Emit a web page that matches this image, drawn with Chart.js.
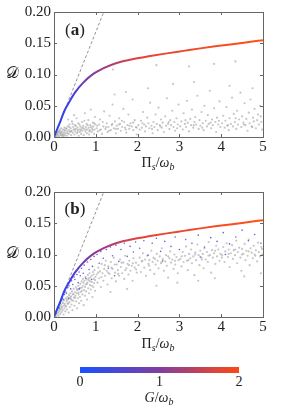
<!DOCTYPE html>
<html>
<head>
<meta charset="utf-8">
<script src="https://cdn.jsdelivr.net/npm/chart.js@4.4.1/dist/chart.umd.min.js"></script>
<style>
  body { margin: 0; background: #fff; }
  #wrap { position: relative; width: 301px; height: 409px; font-family: "Liberation Serif", "DejaVu Serif", serif; color: #222; }
  canvas { position: absolute; left: 0; }
  .lbl { position: absolute; font-size: 14px; white-space: nowrap; transform: translate(-50%, -50%); line-height: 1; }
  .lbl i { font-style: italic; }
  .lbl sub { font-size: 10px; vertical-align: -3px; font-style: italic; }
  .panel { font-size: 17px; }
  .dsym { font-size: 16px; }
  #cbar { position: absolute; left: 80px; top: 367px; width: 159px; height: 6px;
          background: linear-gradient(to right, rgb(25,80,255), rgb(128,62,160), rgb(255,72,18)); }
</style>
</head>
<body>
<div id="wrap">
  <canvas id="chartA" width="301" height="157" style="top:0px"></canvas>
  <canvas id="chartB" width="301" height="157" style="top:180px"></canvas>

  <div class="lbl dsym" style="left:12px; top:73px">𝒟</div>
  <div class="lbl dsym" style="left:12px; top:253px">𝒟</div>
  <div class="lbl panel" style="left:75px; top:29px">(<b>a</b>)</div>
  <div class="lbl panel" style="left:75px; top:208px">(<b>b</b>)</div>
  <div class="lbl" style="left:158px; top:164px">Π<sub>s</sub>/<i>ω</i><sub>b</sub></div>
  <div class="lbl" style="left:158px; top:345px">Π<sub>s</sub>/<i>ω</i><sub>b</sub></div>

  <div id="cbar"></div>
  <div class="lbl" style="left:80px; top:382px">0</div>
  <div class="lbl" style="left:159.5px; top:382px">1</div>
  <div class="lbl" style="left:239px; top:382px">2</div>
  <div class="lbl" style="left:159px; top:399px"><i>G</i>/<i>ω</i><sub>b</sub></div>
</div>

<script>
// axis ticks
const xTicks = [0, 1, 2, 3, 4, 5];
const yTicks = [0, 0.05, 0.10, 0.15, 0.20];

// saturating curve (same in both panels)
const curveX = [0, 0.05, 0.1, 0.15, 0.25, 0.375, 0.5, 0.7, 0.9, 1.2, 1.5, 1.9, 2.3, 2.7, 3.1, 3.5, 3.9, 4.5, 5];
const curveY = [0, 0.0084, 0.0166, 0.0246, 0.042, 0.057, 0.071, 0.087, 0.099, 0.1105, 0.1185, 0.1248, 0.1295, 0.1338, 0.1378, 0.1418, 0.1455, 0.1505, 0.155];

// dashed initial slope line
const dashX = [0, 1.19];
const dashY = [0, 0.20];

// curve colour along x (G/wb mapping)
const gradX = [0, 0.4, 1.0, 2.0, 5.0];
const gradC = ['rgb(35,70,245)', 'rgb(70,60,225)', 'rgb(140,60,145)', 'rgb(228,66,58)', 'rgb(255,82,22)'];

// panel (a) gray cloud
const grayA = [
  [0.02,0.001],[0.04,0.003],[0.05,0.001],[0.07,0.005],[0.08,0.002],[0.1,0.004],[0.11,0.008],[0.12,0.001],[0.14,0.006],[0.15,0.003],[0.16,0.01],[0.18,0.005],[0.19,0.002],[0.2,0.008],[0.21,0.012],[0.22,0.004],[0.24,0.007],[0.25,0.015],[0.03,0.006],[0.09,0.009],[0.13,0.012],[0.17,0.014],[0.23,0.001],[0.06,0.008],
  [0.26,0.003],[0.27,0.01],[0.28,0.006],[0.3,0.013],[0.31,0.002],[0.32,0.009],[0.33,0.017],[0.35,0.005],[0.36,0.011],[0.37,0.02],[0.38,0.008],[0.4,0.014],[0.41,0.003],[0.42,0.01],[0.43,0.025],[0.45,0.007],[0.46,0.016],[0.47,0.012],[0.49,0.004],[0.5,0.019],[0.51,0.009],[0.52,0.013],[0.54,0.03],[0.55,0.006],[0.56,0.015],[0.57,0.011],[0.58,0.022],[0.59,0.002],[0.34,0.028],[0.48,0.035],
  [0.61,0.012],[0.62,0.008],[0.63,0.017],[0.65,0.005],[0.66,0.014],[0.67,0.024],[0.68,0.01],[0.7,0.018],[0.71,0.003],[0.72,0.013],[0.74,0.038],[0.75,0.009],[0.76,0.016],[0.78,0.021],[0.79,0.006],[0.8,0.012],[0.82,0.027],[0.83,0.015],[0.84,0.004],[0.86,0.011],[0.87,0.019],[0.88,0.044],[0.9,0.008],[0.91,0.014],[0.93,0.023],[0.94,0.017],[0.96,0.005],[0.97,0.012],[0.98,0.032],[0.99,0.02],
  [1.02,0.014],[1.05,0.009],[1.08,0.02],[1.1,0.028],[1.12,0.012],[1.15,0.005],[1.18,0.017],[1.2,0.041],[1.23,0.013],[1.26,0.022],[1.28,0.008],[1.3,0.016],[1.33,0.034],[1.36,0.011],[1.38,0.019],[1.4,0.052],[1.43,0.014],[1.46,0.025],[1.48,0.006],[1.5,0.018],[1.53,0.013],[1.56,0.03],[1.58,0.021],[1.6,0.01],[1.63,0.016],[1.66,0.045],[1.68,0.024],[1.7,0.015],[1.73,0.007],[1.76,0.019],[1.78,0.036],[1.8,0.013],[1.83,0.022],[1.86,0.017],[1.88,0.06],[1.9,0.011],[1.93,0.027],[1.96,0.016],[1.98,0.004],[1.45,0.068],[1.72,0.072],
  [2.02,0.019],[2.05,0.012],[2.08,0.026],[2.1,0.015],[2.13,0.04],[2.16,0.02],[2.18,0.009],[2.2,0.017],[2.23,0.031],[2.26,0.022],[2.28,0.014],[2.3,0.055],[2.33,0.018],[2.36,0.006],[2.38,0.024],[2.4,0.016],[2.43,0.036],[2.46,0.021],[2.48,0.011],[2.5,0.047],[2.53,0.019],[2.56,0.028],[2.58,0.015],[2.6,0.023],[2.63,0.008],[2.66,0.033],[2.68,0.018],[2.7,0.062],[2.73,0.021],[2.76,0.013],[2.78,0.027],[2.8,0.019],[2.83,0.042],[2.86,0.016],[2.88,0.024],[2.9,0.01],[2.93,0.03],[2.96,0.02],[2.98,0.052],[2.25,0.078],[2.85,0.085],
  [3.02,0.017],[3.05,0.025],[3.08,0.012],[3.1,0.038],[3.13,0.021],[3.16,0.016],[3.18,0.058],[3.2,0.023],[3.23,0.009],[3.26,0.029],[3.28,0.019],[3.3,0.044],[3.33,0.015],[3.36,0.024],[3.38,0.032],[3.4,0.02],[3.43,0.066],[3.46,0.013],[3.48,0.027],[3.5,0.018],[3.53,0.04],[3.56,0.022],[3.58,0.011],[3.6,0.05],[3.63,0.026],[3.66,0.017],[3.68,0.035],[3.7,0.021],[3.73,0.074],[3.76,0.014],[3.78,0.028],[3.8,0.019],[3.83,0.046],[3.86,0.024],[3.88,0.008],[3.9,0.031],[3.93,0.02],[3.96,0.057],[3.98,0.016],[3.35,0.088],
  [4.02,0.022],[4.05,0.034],[4.08,0.015],[4.1,0.026],[4.13,0.048],[4.16,0.019],[4.18,0.011],[4.2,0.03],[4.23,0.021],[4.26,0.063],[4.28,0.017],[4.3,0.037],[4.33,0.024],[4.36,0.013],[4.38,0.042],[4.4,0.02],[4.43,0.028],[4.46,0.071],[4.48,0.016],[4.5,0.033],[4.53,0.023],[4.56,0.054],[4.58,0.019],[4.6,0.029],[4.63,0.01],[4.66,0.039],[4.68,0.022],[4.7,0.06],[4.73,0.017],[4.76,0.031],[4.78,0.025],[4.8,0.045],[4.83,0.014],[4.86,0.027],[4.88,0.036],[4.9,0.02],[4.93,0.05],[4.96,0.024],[4.98,0.012],[4.2,0.082],[4.75,0.078],
  [1.41,0.108],[2.45,0.115],[3.23,0.113],[3.83,0.117],[4.34,0.121],
  [0.035,0.004],[0.085,0.006],[0.125,0.009],[0.165,0.007],[0.205,0.003],[0.245,0.011],[0.285,0.014],[0.325,0.006],[0.365,0.016],[0.405,0.009],[0.445,0.021],[0.485,0.012],[0.525,0.018],[0.565,0.008],[0.605,0.02],[0.645,0.011],[0.685,0.015],[0.725,0.026],[0.765,0.012],[0.805,0.019],[0.845,0.009],[0.885,0.016],[0.925,0.011],[0.965,0.022],
  [1.035,0.018],[1.095,0.011],[1.165,0.024],[1.245,0.016],[1.315,0.01],[1.395,0.021],[1.475,0.013],[1.545,0.02],[1.625,0.026],[1.715,0.012],[1.805,0.018],[1.895,0.023],[1.975,0.015],[2.115,0.022],[2.345,0.013],[2.545,0.017],[2.745,0.024],[2.945,0.014],[3.145,0.027],[3.345,0.019],[3.545,0.015],[3.745,0.023],[3.945,0.026],[4.145,0.018],[4.345,0.03],[4.545,0.02],[4.745,0.016],[4.945,0.033]
];

// panel (b) gray cloud
const grayB = [
  [0.02,0.002],[0.04,0.005],[0.05,0.001],[0.06,0.008],[0.08,0.004],[0.09,0.011],[0.1,0.007],[0.11,0.002],[0.12,0.014],[0.13,0.009],[0.14,0.018],[0.15,0.005],[0.16,0.012],[0.17,0.02],[0.18,0.008],[0.19,0.015],[0.2,0.024],[0.21,0.011],[0.22,0.018],[0.23,0.004],[0.24,0.027],[0.25,0.014],[0.26,0.021],[0.27,0.009],[0.28,0.03],[0.29,0.017],[0.3,0.025],[0.03,0.009],[0.07,0.013],
  [0.31,0.012],[0.32,0.032],[0.33,0.021],[0.34,0.028],[0.35,0.007],[0.36,0.035],[0.37,0.024],[0.38,0.016],[0.39,0.038],[0.4,0.029],[0.41,0.033],[0.42,0.02],[0.43,0.041],[0.44,0.011],[0.45,0.036],[0.46,0.026],[0.47,0.045],[0.48,0.031],[0.49,0.018],[0.5,0.04],[0.51,0.034],[0.52,0.048],[0.53,0.025],[0.54,0.038],[0.55,0.014],[0.56,0.043],[0.57,0.03],[0.58,0.05],[0.59,0.036],[0.6,0.022],
  [0.61,0.045],[0.62,0.032],[0.63,0.053],[0.64,0.04],[0.65,0.026],[0.66,0.057],[0.67,0.047],[0.68,0.036],[0.69,0.061],[0.7,0.05],[0.71,0.019],[0.72,0.043],[0.73,0.058],[0.74,0.034],[0.75,0.064],[0.76,0.052],[0.77,0.041],[0.78,0.06],[0.79,0.028],[0.8,0.055],[0.81,0.067],[0.82,0.046],[0.83,0.059],[0.84,0.038],[0.85,0.07],[0.86,0.051],[0.87,0.063],[0.88,0.044],[0.9,0.066],[0.91,0.056],[0.92,0.032],[0.93,0.072],[0.94,0.048],[0.95,0.061],[0.96,0.054],[0.97,0.075],[0.98,0.042],[0.99,0.064],
  [1.02,0.068],[1.04,0.055],[1.06,0.079],[1.08,0.062],[1.1,0.073],[1.12,0.048],[1.14,0.085],[1.16,0.07],[1.18,0.058],[1.2,0.077],[1.22,0.066],[1.24,0.09],[1.26,0.074],[1.28,0.052],[1.3,0.081],[1.33,0.069],[1.36,0.088],[1.38,0.062],[1.4,0.077],[1.43,0.095],[1.46,0.071],[1.48,0.057],[1.5,0.084],[1.53,0.075],[1.56,0.066],[1.58,0.092],[1.6,0.08],[1.63,0.07],[1.66,0.087],[1.68,0.061],[1.7,0.098],[1.73,0.078],[1.76,0.085],[1.78,0.068],[1.8,0.09],[1.83,0.074],[1.86,0.082],[1.88,0.058],[1.9,0.094],[1.93,0.079],[1.96,0.087],[1.98,0.071],[1.35,0.04],[1.75,0.045],
  [2.02,0.083],[2.05,0.095],[2.08,0.072],[2.1,0.089],[2.13,0.102],[2.16,0.079],[2.18,0.092],[2.2,0.066],[2.23,0.098],[2.26,0.085],[2.28,0.091],[2.3,0.075],[2.33,0.106],[2.36,0.088],[2.38,0.095],[2.4,0.069],[2.43,0.084],[2.46,0.101],[2.48,0.09],[2.5,0.078],[2.53,0.097],[2.56,0.086],[2.58,0.11],[2.6,0.093],[2.63,0.074],[2.66,0.089],[2.68,0.099],[2.7,0.082],[2.73,0.063],[2.76,0.094],[2.78,0.105],[2.8,0.087],[2.83,0.092],[2.86,0.077],[2.88,0.1],[2.9,0.084],[2.93,0.096],[2.96,0.07],[2.98,0.091],[2.45,0.05],[2.95,0.055],
  [3.02,0.093],[3.05,0.081],[3.08,0.104],[3.1,0.088],[3.13,0.098],[3.16,0.113],[3.18,0.09],[3.2,0.075],[3.23,0.101],[3.26,0.094],[3.28,0.108],[3.3,0.086],[3.33,0.097],[3.36,0.067],[3.38,0.103],[3.4,0.091],[3.43,0.116],[3.46,0.099],[3.48,0.083],[3.5,0.106],[3.53,0.095],[3.56,0.101],[3.58,0.078],[3.6,0.11],[3.63,0.092],[3.66,0.104],[3.68,0.088],[3.7,0.12],[3.73,0.099],[3.76,0.071],[3.78,0.107],[3.8,0.095],[3.83,0.102],[3.86,0.085],[3.88,0.114],[3.9,0.097],[3.93,0.108],[3.96,0.09],[3.98,0.101],[3.45,0.058],[3.85,0.062],
  [4.02,0.099],[4.05,0.112],[4.08,0.088],[4.1,0.105],[4.13,0.118],[4.16,0.096],[4.18,0.108],[4.2,0.08],[4.23,0.102],[4.26,0.115],[4.28,0.093],[4.3,0.107],[4.33,0.099],[4.36,0.122],[4.38,0.086],[4.4,0.104],[4.43,0.111],[4.46,0.095],[4.48,0.074],[4.5,0.109],[4.53,0.101],[4.56,0.117],[4.58,0.091],[4.6,0.106],[4.63,0.098],[4.66,0.124],[4.68,0.083],[4.7,0.11],[4.73,0.103],[4.76,0.094],[4.78,0.114],[4.8,0.1],[4.83,0.107],[4.86,0.089],[4.88,0.119],[4.9,0.104],[4.93,0.097],[4.96,0.112],[4.98,0.1],[4.55,0.065],[4.95,0.07],
  [0.135,0.013],[0.175,0.016],[0.215,0.022],[0.265,0.018],[0.305,0.028],[0.345,0.022],[0.385,0.031],[0.425,0.027],[0.465,0.037],[0.505,0.031],[0.545,0.045],[0.585,0.039],[0.625,0.047],[0.665,0.042],[0.705,0.055],[0.745,0.048],[0.785,0.053],[0.825,0.062],[0.865,0.057],[0.905,0.05],[0.945,0.068],[0.985,0.059],
  [1.055,0.071],[1.135,0.064],[1.215,0.083],[1.295,0.071],[1.375,0.079],[1.455,0.084],[1.535,0.069],[1.615,0.087],[1.705,0.075],[1.795,0.083],[1.885,0.086],[1.965,0.076],[2.115,0.09],[2.275,0.082],[2.415,0.093],[2.575,0.088],[2.735,0.097],[2.895,0.09],[3.055,0.097],[3.215,0.091],[3.375,0.1],[3.535,0.092],[3.695,0.098],[3.855,0.106],[4.015,0.095],[4.175,0.101],[4.335,0.108],[4.495,0.1],[4.655,0.105],[4.815,0.098],[4.975,0.109]
];

// panel (b) blue points
const blueB = [
  [0.05,0.006],[0.08,0.012],[0.1,0.016],[0.12,0.015],[0.15,0.022],[0.18,0.027],[0.2,0.03],[0.22,0.028],[0.25,0.036],[0.28,0.04],[0.3,0.038],[0.33,0.047],[0.36,0.05],[0.4,0.045],[0.42,0.058],[0.45,0.052],[0.48,0.064],[0.5,0.06],[0.55,0.068],[0.58,0.055],[0.6,0.072],[0.63,0.066],[0.66,0.078],[0.7,0.07],[0.72,0.083],[0.76,0.062],[0.8,0.088],[0.84,0.076],[0.88,0.092],[0.92,0.081],[0.96,0.097],[0.35,0.03],[0.6,0.045],[0.9,0.06],
  [1.03,0.1],[1.08,0.086],[1.12,0.105],[1.18,0.094],[1.25,0.108],[1.3,0.078],[1.35,0.112],[1.4,0.098],[1.48,0.115],[1.55,0.089],[1.6,0.108],[1.68,0.118],[1.75,0.097],[1.82,0.113],[1.9,0.104],[1.95,0.12],[1.45,0.066],
  [2.05,0.11],[2.15,0.122],[2.25,0.099],[2.35,0.118],[2.45,0.126],[2.55,0.105],[2.65,0.121],[2.8,0.113],[2.9,0.128],[3.0,0.108],[3.15,0.124],[3.3,0.118],[3.45,0.131],[3.6,0.112],[3.75,0.127],[3.9,0.121],[4.05,0.135],[4.2,0.117],[4.35,0.128],[4.5,0.139],[4.65,0.122],[4.8,0.132],[4.95,0.118],[2.6,0.09],[3.5,0.096],[4.1,0.1]
];

const toPts = (xs, ys) => xs.map((x, i) => ({ x: x, y: ys[i] }));
const pairPts = arr => arr.map(p => ({ x: p[0], y: p[1] }));

// box frame with inward ticks on all four sides
const framePlugin = {
  id: 'frame',
  afterDatasetsDraw(chart) {
    const { ctx, chartArea: a, scales } = chart;
    ctx.save();
    ctx.strokeStyle = '#666';
    ctx.lineWidth = 1;
    ctx.strokeRect(Math.round(a.left) + 0.5, Math.round(a.top) + 0.5, Math.round(a.right - a.left), Math.round(a.bottom - a.top));
    ctx.beginPath();
    xTicks.forEach(v => {
      const px = Math.round(scales.x.getPixelForValue(v)) + 0.5;
      ctx.moveTo(px, a.bottom); ctx.lineTo(px, a.bottom - 3);
      ctx.moveTo(px, a.top); ctx.lineTo(px, a.top + 3);
    });
    yTicks.forEach(v => {
      const py = Math.round(scales.y.getPixelForValue(v)) + 0.5;
      ctx.moveTo(a.left, py); ctx.lineTo(a.left + 3, py);
      ctx.moveTo(a.right, py); ctx.lineTo(a.right - 3, py);
    });
    ctx.stroke();
    ctx.restore();
  }
};

function curveColor(context) {
  const chart = context.chart;
  const { ctx, chartArea, scales } = chart;
  if (!chartArea) return gradC[0];
  const x0 = scales.x.getPixelForValue(0), x1 = scales.x.getPixelForValue(5);
  const g = ctx.createLinearGradient(x0, 0, x1, 0);
  gradX.forEach((v, i) => g.addColorStop(v / 5, gradC[i]));
  return g;
}

function makeChart(id, gray, blue) {
  const datasets = [
    { data: toPts(curveX, curveY), showLine: true, pointRadius: 0, borderWidth: 2,
      borderColor: curveColor, cubicInterpolationMode: 'monotone', order: 0 },
    { data: toPts(dashX, dashY), showLine: true, pointRadius: 0, borderWidth: 0.8,
      borderColor: '#777', borderDash: [3, 2], order: 1 },
    { data: pairPts(gray), pointRadius: 1.1, borderWidth: 0,
      backgroundColor: 'rgba(160,160,160,0.6)', order: 3 }
  ];
  if (blue) {
    datasets.push({ data: pairPts(blue), pointRadius: 0.8, borderWidth: 0,
      backgroundColor: 'rgba(60,55,215,0.8)', order: 2 });
  }
  const tickFont = { family: '"Liberation Serif", serif', size: 15 };
  return new Chart(document.getElementById(id), {
    type: 'scatter',
    data: { datasets: datasets },
    options: {
      responsive: false,
      animation: false,
      layout: { padding: { top: 8, right: 38, left: 0, bottom: 0 } },
      plugins: { legend: { display: false }, tooltip: { enabled: false } },
      scales: {
        x: {
          type: 'linear', min: 0, max: 5,
          grid: { display: false, drawTicks: false },
          border: { display: false },
          ticks: { stepSize: 1, font: tickFont, color: '#222', padding: 1, maxRotation: 0 },
          afterFit: s => { s.height = 20; }
        },
        y: {
          type: 'linear', min: 0, max: 0.2,
          grid: { display: false, drawTicks: false },
          border: { display: false },
          ticks: { stepSize: 0.05, font: tickFont, color: '#222', padding: 3,
                   callback: v => v.toFixed(2) },
          afterFit: s => { s.width = 54; }
        }
      }
    },
    plugins: [framePlugin]
  });
}

makeChart('chartA', grayA, null);
makeChart('chartB', grayB, blueB);
</script>
</body>
</html>
